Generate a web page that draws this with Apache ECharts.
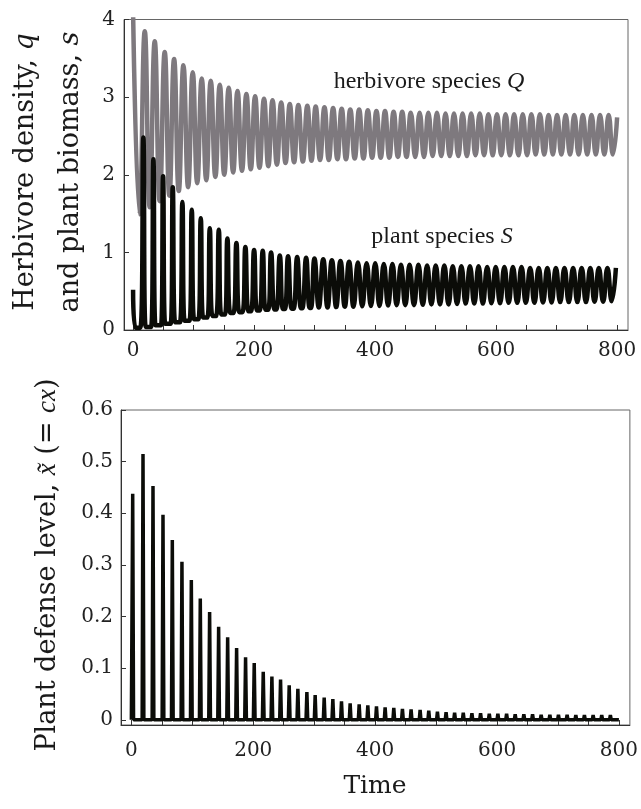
<!DOCTYPE html>
<html>
<head>
<meta charset="utf-8">
<title>Herbivore and plant dynamics</title>
<script src="https://cdn.jsdelivr.net/npm/echarts@6.0.0/dist/echarts.min.js"></script>
<style>
  html,body{margin:0;padding:0;background:#fff;}
  #chart{width:641px;height:809px;}
</style>
</head>
<body>
<div id="chart"></div>
<script>
// herbivore species Q : peaks / troughs
var qPeakTime = [0, 19.3, 35.8, 52.3, 67.8, 83.2, 98.6, 113.5, 128.4, 143.3, 158.1, 172.6, 187.3, 201.7, 216.4, 230.5, 244.8, 259.0, 273.2, 288.0,
  301.8, 316.3, 330.6, 344.8, 359.0, 373.6, 388.0, 402.2, 416.4, 430.6, 444.8, 459.0, 473.6, 488.0, 502.2, 516.4, 530.4, 544.6, 558.8, 573.0,
  587.3, 601.4, 615.7, 629.8, 644.0, 658.3, 672.4, 686.7, 700.8, 715.0, 729.3, 743.4, 757.7, 771.8, 786.0, 800.0];
var qPeak = [4.1, 3.85, 3.72, 3.58, 3.49, 3.41, 3.32, 3.24, 3.21, 3.16, 3.12, 3.08, 3.04, 3.01, 2.98, 2.96, 2.93, 2.91, 2.90, 2.89,
  2.88, 2.87, 2.86, 2.85, 2.84, 2.84, 2.83, 2.82, 2.82, 2.81, 2.81, 2.80, 2.80, 2.80, 2.80, 2.79, 2.79, 2.79, 2.79, 2.79,
  2.78, 2.78, 2.78, 2.78, 2.78, 2.78, 2.78, 2.77, 2.77, 2.77, 2.77, 2.77, 2.77, 2.77, 2.77, 2.74];
var qTroughTime = [10.5, 27.5, 44, 60, 75.5, 91, 106, 121, 136, 150.7, 165.4, 180, 194.5, 209, 223.5, 237.7, 252, 266.1, 280.6, 294.9,
  309, 323.5, 337.7, 351.9, 366.3, 380.8, 395.1, 409.3, 423.5, 437.7, 451.9, 466.3, 480.8, 495.1, 509.3, 523.4, 537.5, 551.7, 565.9, 580.2,
  594.4, 608.6, 622.8, 636.9, 651.2, 665.4, 679.6, 693.8, 707.9, 722.2, 736.4, 750.6, 764.8, 778.9, 793.0];
var qTrough = [1.49, 1.58, 1.66, 1.73, 1.79, 1.84, 1.89, 1.93, 1.97, 2.00, 2.03, 2.05, 2.07, 2.09, 2.11, 2.13, 2.15, 2.16, 2.17, 2.18,
  2.19, 2.19, 2.20, 2.20, 2.21, 2.21, 2.22, 2.22, 2.22, 2.23, 2.23, 2.23, 2.23, 2.24, 2.24, 2.24, 2.24, 2.24, 2.25, 2.25,
  2.25, 2.25, 2.25, 2.25, 2.25, 2.26, 2.26, 2.26, 2.26, 2.26, 2.26, 2.26, 2.26, 2.26, 2.26];

// plant species S
var sPeakTime = [0, 17.0, 33.6, 49.6, 65.6, 81.5, 97.0, 111.9, 126.8, 141.7, 155.9, 170.8, 185.6, 200.0, 214.3, 228.1, 242.5, 256.2, 271.2, 286.0,
  299.8, 314.3, 328.6, 342.8, 357.0, 371.6, 386.0, 400.2, 414.4, 428.6, 442.8, 457.0, 471.6, 486.0, 500.2, 514.4, 528.4, 542.6, 556.8, 571.0,
  585.3, 599.4, 613.7, 627.8, 642.0, 656.3, 670.4, 684.7, 698.8, 713.0, 727.3, 741.4, 755.7, 769.8, 784.0, 798.0];
var sPeak = [0.52, 2.48, 2.20, 1.98, 1.84, 1.65, 1.55, 1.44, 1.31, 1.29, 1.18, 1.12, 1.07, 1.03, 1.02, 1.00, 0.96, 0.95, 0.94, 0.93,
  0.92, 0.91, 0.90, 0.89, 0.88, 0.87, 0.86, 0.86, 0.85, 0.85, 0.84, 0.84, 0.84, 0.83, 0.83, 0.83, 0.82, 0.82, 0.82, 0.82,
  0.81, 0.81, 0.81, 0.81, 0.81, 0.80, 0.80, 0.80, 0.80, 0.80, 0.80, 0.80, 0.80, 0.80, 0.80, 0.80];
var sTroughTime = [8, 25.3, 41.6, 57.6, 73.5, 89.2, 104.4, 119.3, 134.2, 148.8, 163.3, 178.2, 192.8, 207.1, 221.2, 235.3, 249.3, 263.7, 278.6, 292.9,
  307.0, 321.4, 335.7, 349.9, 364.3, 378.8, 393.1, 407.3, 421.5, 435.7, 449.9, 464.3, 478.8, 493.1, 507.3, 521.4, 535.5, 549.7, 563.9, 578.1,
  592.3, 606.5, 620.7, 634.9, 649.1, 663.3, 677.5, 691.7, 705.9, 720.1, 734.3, 748.5, 762.7, 776.9, 791.0];
var sTrough = [0.03, 0.04, 0.06, 0.08, 0.10, 0.12, 0.14, 0.16, 0.18, 0.20, 0.22, 0.23, 0.24, 0.25, 0.26, 0.265, 0.27, 0.275, 0.28, 0.285,
  0.29, 0.29, 0.295, 0.30, 0.30, 0.305, 0.31, 0.31, 0.315, 0.32, 0.32, 0.32, 0.325, 0.33, 0.33, 0.33, 0.335, 0.34, 0.34, 0.34,
  0.345, 0.345, 0.35, 0.35, 0.35, 0.35, 0.355, 0.355, 0.36, 0.36, 0.36, 0.36, 0.365, 0.365, 0.37];
// half length of the flat floor of the early plant troughs (later ones are round)
var sTroughFlat = [4, 4.5, 4.5, 4.5, 4, 4, 3.5, 3.5, 3, 3, 2.5, 2.5, 2, 2, 2, 1.5, 1.5, 1.5, 1, 1];

// plant defense level: spike times and heights
var xSpikeTime = [2.2, 19.1, 35.5, 51.9, 67.2, 83.0, 98.4, 113.1, 128.4, 143.2, 158.0, 172.7, 187.4, 201.6, 216.4, 230.6, 244.8, 259.0, 273.2, 288.0,
  301.6, 316.4, 330.6, 344.8, 359.0, 373.8, 388.0, 402.2, 416.4, 430.6, 444.8, 459.0, 473.8, 488.0, 502.2, 516.4, 530.4, 544.6, 558.8, 573.0,
  587.3, 601.4, 615.7, 629.8, 644.0, 658.3, 672.4, 686.7, 700.8, 715.0, 729.3, 743.4, 757.7, 771.8, 786.0];
var xSpike = [0.438, 0.515, 0.453, 0.397, 0.348, 0.306, 0.271, 0.235, 0.209, 0.180, 0.160, 0.139, 0.121, 0.110, 0.093, 0.084, 0.078, 0.067, 0.060, 0.054,
  0.048, 0.043, 0.040, 0.036, 0.032, 0.030, 0.028, 0.026, 0.024, 0.023, 0.021, 0.020, 0.019, 0.018, 0.016, 0.015, 0.014, 0.014, 0.013, 0.013,
  0.012, 0.012, 0.012, 0.011, 0.011, 0.011, 0.010, 0.010, 0.010, 0.010, 0.009, 0.009, 0.009, 0.009, 0.009];

// axis ticks and labels
var topTicks = [0, 50, 100, 150, 200, 250, 300, 350, 400, 450, 500, 550, 600, 650, 700, 750, 800];
var timeLabels = [0, 200, 400, 600, 800];
var defenseTicks = [0, 0.1, 0.2, 0.3, 0.4, 0.5, 0.6];

var serif = 'DejaVu Serif';

// peaks and troughs in turn
function zigzag(peakT, peakV, troughT, troughV, flat) {
  var pts = [];
  for (var i = 0; i < peakT.length; i++) {
    pts.push([peakT[i], peakV[i]]);
    if (i >= troughT.length) continue;
    var w = flat && flat[i] ? flat[i] : 0;
    if (w) {
      pts.push([troughT[i] - w, troughV[i]], [troughT[i] + w, troughV[i]]);
    } else {
      pts.push([troughT[i], troughV[i]]);
    }
  }
  return pts;
}
// narrow spikes sitting on a flat base
function spikes(t, v, half) {
  var pts = [[0, 0]];
  for (var i = 0; i < t.length; i++) {
    pts.push([t[i] - half, 0], [t[i], v[i]], [t[i] + half, 0]);
  }
  pts.push([800, 0]);
  return pts;
}

function xAxisOf(idx, min, max, margin) {
  return {
    type: 'value', gridIndex: idx, min: min, max: max,
    axisLine: {show: true, onZero: false, lineStyle: {color: '#333', width: 1}},
    axisTick: {show: true, inside: true, length: 5, customValues: topTicks, lineStyle: {color: '#333'}},
    axisLabel: {customValues: timeLabels, margin: margin, color: '#222', fontFamily: serif, fontSize: 20},
    splitLine: {show: false}
  };
}

function vtitle(x, y, text, italicFont) {
  return {
    type: 'text', x: x, y: y, rotation: Math.PI / 2,
    style: {
      text: text,
      align: 'center', verticalAlign: 'middle', textAlign: 'center', textVerticalAlign: 'middle',
      rich: {
        n: {fontFamily: serif, fontSize: 27, fill: '#1a1a1a'},
        i: {fontFamily: italicFont, fontSize: 27, fontStyle: 'italic', fill: '#1a1a1a'}
      }
    }
  };
}

var chart = echarts.init(document.getElementById('chart'));
var option = {
  animation: false,
  backgroundColor: '#fff',
  grid: [
    {left: 124, top: 19.5, width: 504, height: 310.5, show: true, borderColor: '#666', borderWidth: 1},
    {left: 121, top: 410, width: 509, height: 315, show: true, borderColor: '#666', borderWidth: 1}
  ],
  xAxis: [
    xAxisOf(0, -15, 818, 11),
    xAxisOf(1, -17, 818, 16)
  ],
  yAxis: [
    {
      type: 'value', gridIndex: 0, min: 0, max: 4, interval: 1,
      axisLine: {show: true, onZero: false, lineStyle: {color: '#333'}},
      axisTick: {show: true, inside: true, length: 5, lineStyle: {color: '#333'}},
      axisLabel: {margin: 9, color: '#222', fontFamily: serif, fontSize: 20},
      splitLine: {show: false}
    },
    {
      type: 'value', gridIndex: 1, min: -0.01, max: 0.6,
      axisLine: {show: true, onZero: false, lineStyle: {color: '#333'}},
      axisTick: {show: true, inside: true, length: 5, customValues: defenseTicks, lineStyle: {color: '#333'}},
      axisLabel: {
        customValues: defenseTicks, margin: 8, color: '#222', fontFamily: serif, fontSize: 20,
        formatter: function (v) { return v === 0 ? '0' : v.toFixed(1); }
      },
      splitLine: {show: false}
    }
  ],
  series: [
    {
      name: 'q', type: 'line', xAxisIndex: 0, yAxisIndex: 0,
      data: zigzag(qPeakTime, qPeak, qTroughTime, qTrough),
      smooth: 0.5, showSymbol: false, clip: true,
      lineStyle: {color: '#7e797e', width: 4.5}
    },
    {
      name: 's', type: 'line', xAxisIndex: 0, yAxisIndex: 0,
      data: zigzag(sPeakTime, sPeak, sTroughTime, sTrough, sTroughFlat),
      smooth: 0.5, showSymbol: false, clip: true,
      lineStyle: {color: '#0b0c08', width: 4.5}
    },
    {
      name: 'x', type: 'line', xAxisIndex: 1, yAxisIndex: 1,
      data: spikes(xSpikeTime, xSpike, 1.4),
      showSymbol: false, clip: true,
      lineStyle: {color: '#0b0c08', width: 3.5, join: 'bevel'}
    }
  ],
  graphic: [
    vtitle(26, 172, '{n|Herbivore density, }{i|q}', serif),
    vtitle(71, 172, '{n|and plant biomass, }{i|s}', serif),
    vtitle(48, 565, '{n|Plant defense level, }{i|x\u0303}{n| (= }{i|cx}{n|)}', 'Liberation Serif'),
    {
      type: 'text', x: 375, y: 786,
      style: {
        text: 'Time', fontFamily: serif, fontSize: 25, fill: '#1a1a1a',
        align: 'center', verticalAlign: 'middle', textAlign: 'center', textVerticalAlign: 'middle'
      }
    },
    {
      type: 'text', x: 429, y: 82,
      style: {
        text: '{n|herbivore species }{i|Q}',
        align: 'center', verticalAlign: 'middle', textAlign: 'center', textVerticalAlign: 'middle',
        rich: {
          n: {fontFamily: 'Liberation Serif', fontSize: 24, fill: '#1a1a1a'},
          i: {fontFamily: 'Liberation Serif', fontSize: 24, fontStyle: 'italic', fill: '#1a1a1a'}
        }
      }
    },
    {
      type: 'text', x: 442, y: 237,
      style: {
        text: '{n|plant species }{i|S}',
        align: 'center', verticalAlign: 'middle', textAlign: 'center', textVerticalAlign: 'middle',
        rich: {
          n: {fontFamily: 'Liberation Serif', fontSize: 24, fill: '#1a1a1a'},
          i: {fontFamily: 'Liberation Serif', fontSize: 24, fontStyle: 'italic', fill: '#1a1a1a'}
        }
      }
    }
  ]
};
chart.setOption(option);
</script>
</body>
</html>
